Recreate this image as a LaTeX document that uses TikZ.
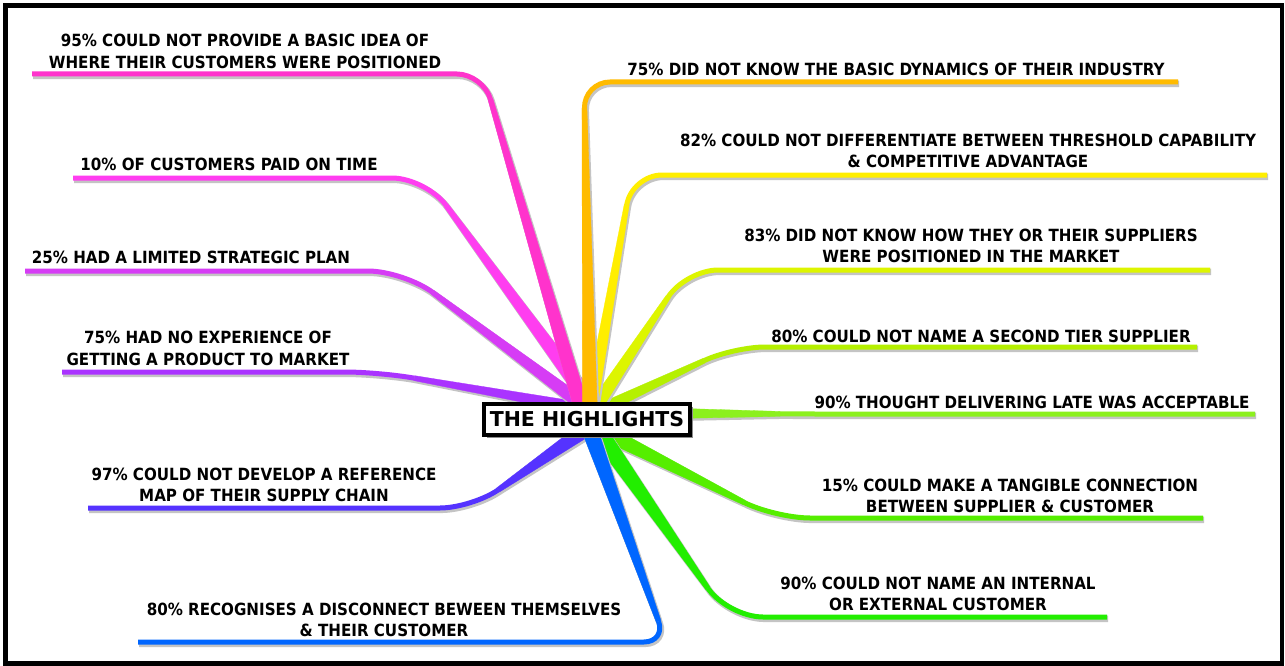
\documentclass[tikz,border=0pt]{standalone}
\usepackage{fontspec}
\newfontfamily\lblfont{DejaVu Sans Condensed Bold}
\newfontfamily\hubfont{DejaVu Sans Bold}
\usetikzlibrary{calc,shadows}
\definecolor{pinkA}{HTML}{FF33CC}
\definecolor{pinkB}{HTML}{FF3DF0}
\definecolor{purpleA}{HTML}{D63CF5}
\definecolor{purpleB}{HTML}{AA33FF}
\definecolor{violetC}{HTML}{5533FF}
\definecolor{blueC}{HTML}{0066FF}
\definecolor{orangeC}{HTML}{FFBB00}
\definecolor{yellowC}{HTML}{FFEE00}
\definecolor{ygreenC}{HTML}{DDF500}
\definecolor{limeC}{HTML}{B5F000}
\definecolor{lgreenC}{HTML}{8CF01E}
\definecolor{greenC}{HTML}{55EE00}
\definecolor{bgreenC}{HTML}{22EE00}
\definecolor{shadowC}{HTML}{C4C4C4}
\tikzset{
  lbl/.style={font=\lblfont\fontsize{16.8}{21.5}\selectfont, align=center, inner sep=0pt, text=black},
  hubbox/.style={draw=black, fill=white, line width=4pt, minimum width=206pt, minimum height=31pt,
    inner sep=0pt, font=\hubfont\fontsize{20.5}{20.5}\selectfont,
    drop shadow={shadow xshift=2.5pt, shadow yshift=-2.5pt, fill=black!45, opacity=1}},
  frame/.style={draw=black, line width=4.5pt}
}
% #1 colour, #2 start, #3 apex, #4 end, #5 corner size, #6 half start width, #7 half end width
\newcommand\mybranch[7]{%
  \coordinate (bS) at ($(#3)!#5pt!(#2)$);
  \coordinate (bK) at ($(#3)!#5pt!(#4)$);
  \coordinate (bC1) at ($(#2)!#6pt!90:(#3)$);
  \coordinate (bC2) at ($(#2)!#6pt!-90:(#3)$);
  \coordinate (bS1) at ($(bS)!#7pt!-90:(#2)$);
  \coordinate (bS2) at ($(bS)!#7pt!90:(#2)$);
  \begin{scope}[transform canvas={shift={(1.2,1.8)}}]
    \filldraw[shadowC, line width=1.5pt, line join=round] (bC1) -- (bS1) -- (bS2) -- (bC2) -- cycle;
    \draw[shadowC, line width=2*#7pt+1.5pt] (bS) .. controls ($(bS)!0.55!(#3)$) and ($(bK)!0.55!(#3)$) .. (bK) -- (#4);
  \end{scope}
  \filldraw[#1, line width=0.3pt] (bC1) -- (bS1) -- (bS2) -- (bC2) -- cycle;
  \draw[#1, line width=2*#7pt] (bS) .. controls ($(bS)!0.55!(#3)$) and ($(bK)!0.55!(#3)$) .. (bK) -- (#4);
}
\begin{document}
\begin{tikzpicture}[x=1pt,y=-1pt]
\useasboundingbox (0,0) rectangle (1285,666);
\fill[white] (0,0) rectangle (1285,666);
% start, apex and end points of the branches
\coordinate (c1) at (582,410); \coordinate (a1) at (483,74);  \coordinate (e1) at (32,74);
\coordinate (c2) at (596,410); \coordinate (a2) at (426,178); \coordinate (e2) at (73,178);
\coordinate (c3) at (590,410); \coordinate (a3) at (404,271); \coordinate (e3) at (25,271);
\coordinate (c4) at (592,410); \coordinate (a4) at (380,372); \coordinate (e4) at (62,372);
\coordinate (c5) at (592,425); \coordinate (a5) at (472,508); \coordinate (e5) at (88,508);
\coordinate (c6) at (588,425); \coordinate (a6) at (666,642); \coordinate (e6) at (138,642);
\coordinate (c7) at (590,412); \coordinate (a7) at (584,82);  \coordinate (e7) at (1178,82);
\coordinate (c8) at (590,412); \coordinate (a8) at (632,175); \coordinate (e8) at (1267,175);
\coordinate (c9) at (592,412); \coordinate (a9) at (686,270); \coordinate (e9) at (1210,270);
\coordinate (c10) at (595,412); \coordinate (a10) at (733,347); \coordinate (e10) at (1197,347);
\coordinate (c11) at (600,413); \coordinate (a11) at (800,414); \coordinate (e11) at (1255,414);
\coordinate (c12) at (600,430); \coordinate (a12) at (775,518); \coordinate (e12) at (1203,518);
\coordinate (c13) at (597,430); \coordinate (a13) at (728,617); \coordinate (e13) at (1107,617);
% branches
\mybranch{purpleB}{c4}{a4}{e4}{35}{6}{2.5}
\mybranch{purpleA}{c3}{a3}{e3}{36}{7}{2.5}
\mybranch{pinkB}{c2}{a2}{e2}{34}{8}{2.5}
\mybranch{pinkA}{c1}{a1}{e1}{26}{7.5}{2.5}
\mybranch{lgreenC}{c11}{a11}{e11}{20}{7}{2.5}
\mybranch{limeC}{c10}{a10}{e10}{32}{6}{2.5}
\mybranch{ygreenC}{c9}{a9}{e9}{32}{7}{2.5}
\mybranch{yellowC}{c8}{a8}{e8}{30}{6.5}{2.5}
\mybranch{orangeC}{c7}{a7}{e7}{26}{7.5}{2.5}
\mybranch{violetC}{c5}{a5}{e5}{32}{8}{2.5}
\mybranch{greenC}{c12}{a12}{e12}{35}{8}{2.5}
\mybranch{bgreenC}{c13}{a13}{e13}{35}{9}{2.5}
\mybranch{blueC}{c6}{a6}{e6}{22}{8}{2.5}
% hub
\node[hubbox] (hub) at (587,419.5) {THE HIGHLIGHTS};
% labels
\node[lbl] (t1) at (245,51.5) {95\% COULD NOT PROVIDE A BASIC IDEA OF\\WHERE THEIR CUSTOMERS WERE POSITIONED};
\node[lbl] (t2) at (229,164) {10\% OF CUSTOMERS PAID ON TIME};
\node[lbl] (t3) at (191,257) {25\% HAD A LIMITED STRATEGIC PLAN};
\node[lbl] (t4) at (208,348.5) {75\% HAD NO EXPERIENCE OF\\GETTING A PRODUCT TO MARKET};
\node[lbl] (t5) at (264,485) {97\% COULD NOT DEVELOP A REFERENCE\\MAP OF THEIR SUPPLY CHAIN};
\node[lbl] (t6) at (384,620) {80\% RECOGNISES A DISCONNECT BEWEEN THEMSELVES\\\& THEIR CUSTOMER};
\node[lbl] (t7) at (896,69) {75\% DID NOT KNOW THE BASIC DYNAMICS OF THEIR INDUSTRY};
\node[lbl] (t8) at (968,151) {82\% COULD NOT DIFFERENTIATE BETWEEN THRESHOLD CAPABILITY\\\& COMPETITIVE ADVANTAGE};
\node[lbl] (t9) at (971,246) {83\% DID NOT KNOW HOW THEY OR THEIR SUPPLIERS\\WERE POSITIONED IN THE MARKET};
\node[lbl] (t10) at (981,336) {80\% COULD NOT NAME A SECOND TIER SUPPLIER};
\node[lbl] (t11) at (1032,402) {90\% THOUGHT DELIVERING LATE WAS ACCEPTABLE};
\node[lbl] (t12) at (1010,496) {15\% COULD MAKE A TANGIBLE CONNECTION\\BETWEEN SUPPLIER \& CUSTOMER};
\node[lbl] (t13) at (938,594) {90\% COULD NOT NAME AN INTERNAL\\OR EXTERNAL CUSTOMER};
% frame
\draw[frame] (5.5,5.5) rectangle (1282,663.5);
\end{tikzpicture}
\end{document}
